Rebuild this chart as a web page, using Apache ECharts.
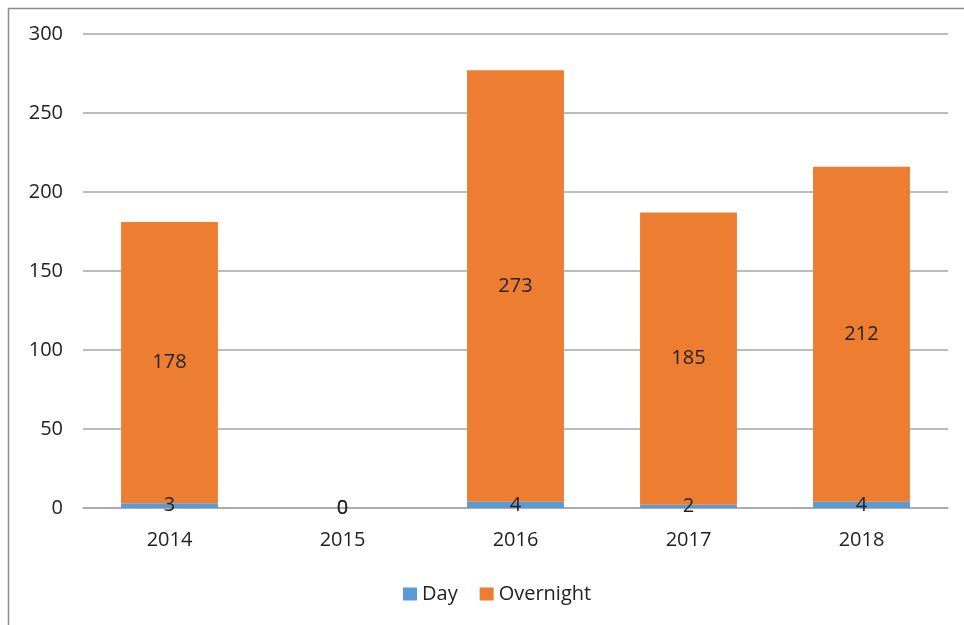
<!DOCTYPE html>
<html><head><meta charset="utf-8">
<script src="https://cdn.jsdelivr.net/npm/echarts@6/dist/echarts.min.js"></script>
<style>html,body{margin:0;padding:0;background:#fff}#c{width:964px;height:625px}</style>
</head><body><div id="c"></div>
<script>
const categories = ['2014', '2015', '2016', '2017', '2018'];
const dayValues = [3, 0, 4, 2, 4];
const overnightValues = [178, 0, 273, 185, 212];
const yTicks = [0, 50, 100, 150, 200, 250, 300];

const FONT = '"Open Sans", "Noto Sans", sans-serif';
const chart = echarts.init(document.getElementById('c'));
chart.setOption({
  animation: false,
  graphic: [{
    type: 'rect', silent: true,
    shape: { x: 8.5, y: 8.5, width: 1000, height: 700 },
    style: { fill: 'none', stroke: '#8c8c8c', lineWidth: 1.5 }
  }],
  grid: { left: 83, right: 16, top: 34, bottom: 117, containLabel: false },
  legend: {
    top: 579, left: 398, itemWidth: 14, itemHeight: 13, itemGap: 22,
    icon: 'rect',
    textStyle: { fontFamily: FONT, fontSize: 20, color: '#222' },
    data: ['Day', 'Overnight']
  },
  xAxis: {
    type: 'category', data: categories,
    axisLine: { show: true, lineStyle: { color: '#a6a6a6', width: 1.5 } },
    axisTick: { show: false },
    axisLabel: { fontFamily: FONT, fontSize: 20, color: '#222', margin: 22 }
  },
  yAxis: {
    type: 'value', min: yTicks[0], max: yTicks[yTicks.length - 1], interval: 50,
    axisLine: { show: false }, axisTick: { show: false },
    splitLine: { lineStyle: { color: '#a6a6a6', width: 1.5 } },
    axisLabel: { fontFamily: FONT, fontSize: 20, color: '#222', margin: 20 }
  },
  series: [
    {
      name: 'Day', type: 'bar', stack: 'a', data: dayValues, barWidth: '56%',
      itemStyle: { color: '#5B9BD5' },
      label: { show: true, position: 'inside', fontFamily: FONT, fontSize: 20, color: '#222' }
    },
    {
      name: 'Overnight', type: 'bar', stack: 'a', data: overnightValues, barWidth: '56%',
      itemStyle: { color: '#ED7D31' },
      label: { show: true, position: 'inside', fontFamily: FONT, fontSize: 20, color: '#222' }
    }
  ]
});
</script></body></html>
